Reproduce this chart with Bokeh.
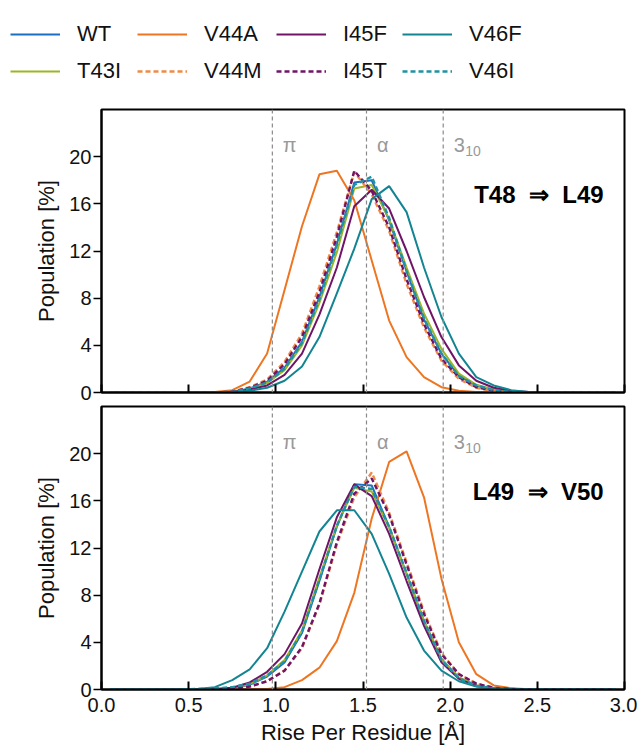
from bokeh.plotting import figure
from bokeh.models import Range1d, Span, Legend, LegendItem, FixedTicker, CustomLabelingPolicy
from bokeh.layouts import column, row
from bokeh.core.properties import value
from bokeh.embed import file_html
from bokeh.resources import INLINE

FONT = "Liberation Sans"

# ---------------- data ----------------
rise = [0.05, 0.15, 0.25, 0.35, 0.45, 0.55, 0.65, 0.75, 0.85, 0.95,
        1.05, 1.15, 1.25, 1.35, 1.45, 1.55, 1.65, 1.75, 1.85, 1.95,
        2.05, 2.15, 2.25, 2.35, 2.45, 2.55, 2.65, 2.75, 2.85, 2.95]

# Panel 1: T48 => L49
wt_t   = [0,0,0,0,0,0,0.01,0.05,0.35,0.9,2.1,4.3,8.1,12.6,17.8,18.0,14.6,10.3,6.2,3.3,1.4,0.6,0.2,0.05,0.02,0,0,0,0,0]
t43i_t = [0,0,0,0,0,0,0.01,0.04,0.3,0.8,1.9,4.0,7.6,11.9,17.3,17.6,14.7,10.6,6.7,3.7,1.6,0.65,0.25,0.08,0.02,0,0,0,0,0]
v44a_t = [0,0,0,0,0,0.02,0.05,0.2,0.93,3.3,8.7,14.1,18.5,18.8,16.3,11.2,6.1,3.0,1.3,0.45,0.15,0.05,0.01,0,0,0,0,0,0,0]
v44m_t = [0,0,0,0,0,0,0.01,0.08,0.45,1.1,2.6,5.0,9.0,13.6,18.7,16.8,13.7,9.2,5.5,2.7,1.15,0.4,0.1,0.03,0,0,0,0,0,0]
i45f_t = [0,0,0,0,0,0,0.01,0.04,0.25,0.6,1.5,3.3,6.6,10.6,15.8,17.2,15.6,12.0,8.1,4.7,2.3,1.0,0.4,0.15,0.05,0,0,0,0,0]
i45t_t = [0,0,0,0,0,0,0.01,0.07,0.4,1.0,2.4,4.7,8.5,13.2,18.8,17.1,14.0,9.6,5.8,2.85,1.3,0.45,0.15,0.05,0.01,0,0,0,0,0]
v46f_t = [0,0,0,0,0,0,0.01,0.05,0.15,0.4,1.0,2.2,4.7,8.4,12.2,16.4,17.5,15.3,10.6,6.4,3.3,1.3,0.6,0.2,0.05,0,0,0,0,0]
v46i_t = [0,0,0,0,0,0,0.01,0.05,0.35,0.85,2.0,4.2,7.9,12.5,17.6,18.3,14.8,10.3,6.3,3.3,1.4,0.6,0.2,0.05,0.01,0,0,0,0,0]

# Panel 2: L49 => V50
wt_b   = [0,0,0,0,0,0,0.03,0.1,0.4,1.1,2.3,4.8,9.2,13.8,17.4,17.3,13.8,9.8,5.8,2.6,1.0,0.35,0.1,0.03,0,0,0,0,0,0]
t43i_b = [0,0,0,0,0,0,0.03,0.1,0.45,1.2,2.5,5.0,9.5,13.9,17.1,16.8,13.7,9.8,5.8,2.6,1.0,0.35,0.1,0.03,0,0,0,0,0,0]
v44a_b = [0,0,0,0,0,0,0,0,0.01,0.05,0.2,0.8,1.85,4.1,8.2,14.5,19.3,20.2,16.3,9.4,4.0,1.3,0.35,0.1,0.03,0,0,0,0,0]
v44m_b = [0,0,0,0,0,0,0.01,0.05,0.25,0.7,1.6,3.5,7.2,12.3,16.3,18.4,15.0,10.8,6.6,3.1,1.3,0.5,0.15,0.05,0,0,0,0,0,0]
i45f_b = [0,0,0,0,0,0,0.04,0.15,0.6,1.5,3.0,5.6,10.2,14.6,17.4,16.4,13.2,9.2,5.4,2.3,0.9,0.3,0.1,0.03,0,0,0,0,0,0]
i45t_b = [0,0,0,0,0,0,0.01,0.05,0.25,0.7,1.6,3.6,7.3,12.5,16.6,17.9,14.8,10.6,6.4,3.0,1.3,0.5,0.15,0.05,0,0,0,0,0,0]
v46f_b = [0,0,0,0,0.02,0.05,0.2,0.8,1.7,3.5,6.6,10.0,13.4,15.2,15.2,13.2,9.8,6.1,3.3,1.6,0.7,0.25,0.08,0.02,0,0,0,0,0,0]
v46i_b = [0,0,0,0,0,0.05,0.1,0.2,0.5,1.2,2.4,4.9,9.3,13.9,17.2,17.0,13.8,9.9,5.8,2.5,0.95,0.3,0.1,0.03,0,0,0,0,0,0]

series = ["WT", "T43I", "V44A", "V44M", "I45F", "I45T", "V46F", "V46I"]
panel_top = {"WT": wt_t, "T43I": t43i_t, "V44A": v44a_t, "V44M": v44m_t,
             "I45F": i45f_t, "I45T": i45t_t, "V46F": v46f_t, "V46I": v46i_t}
panel_bot = {"WT": wt_b, "T43I": t43i_b, "V44A": v44a_b, "V44M": v44m_b,
             "I45F": i45f_b, "I45T": i45t_b, "V46F": v46f_b, "V46I": v46i_b}
panel_labels = ["T48\u00a0\u00a0\u21d2\u00a0\u00a0L49", "L49\u00a0\u00a0\u21d2\u00a0\u00a0V50"]

helix_rise = [0.98, 1.52, 1.96]
helix_names = ["\u03c0", "\u03b1", "3"]
helix_sub = "10"

y_ticks = [0, 4, 8, 12, 16, 20]
x_ticks = [0.0, 0.5, 1.0, 1.5, 2.0, 2.5, 3.0]
x_tick_labels = ["0.0", "0.5", "1.0", "1.5", "2.0", "2.5", "3.0"]

legend_columns = [["WT", "T43I"], ["V44A", "V44M"], ["I45F", "I45T"], ["V46F", "V46I"]]

# ---------------- styles ----------------
colors = {"WT": "#1b6fc2", "T43I": "#9cb526", "V44A": "#ee7623", "V44M": "#f08a45",
          "I45F": "#701468", "I45T": "#701468", "V46F": "#138592", "V46I": "#1f93a3"}
dashes = {"WT": "solid", "T43I": "solid", "V44A": "solid", "V44M": "5 3",
          "I45F": "solid", "I45T": "5 3", "V46F": "solid", "V46I": "5 3"}
widths = {k: (2.4 if dashes[k] != "solid" else 2.0) for k in series}

W = 637
LEFT = 101
RIGHT = 13


def make_panel(data, label, height, top, bottom, show_x):
    p = figure(width=W, height=height, x_range=Range1d(0, 3), y_range=Range1d(0, 24),
               output_backend="svg", toolbar_location=None,
               min_border_left=LEFT, min_border_right=RIGHT,
               min_border_top=top, min_border_bottom=bottom)
    p.grid.visible = False
    p.outline_line_color = "black"
    p.outline_line_width = 2
    p.background_fill_color = "white"
    p.border_fill_alpha = 0

    for h in helix_rise:
        p.add_layout(Span(location=h, dimension="height", line_color="#8a8a8a",
                          line_width=1.2, line_dash="4 3"))
    for name in series:
        p.line(rise, data[name], line_color=colors[name], line_width=widths[name],
               line_dash=dashes[name])

    p.text(x=[h + 0.06 for h in helix_rise], y=[21.0] * 3, text=helix_names,
           text_font=value(FONT), text_font_size=value("20px"), text_color="#999999",
           text_baseline="alphabetic", text_align="left")
    p.text(x=[helix_rise[2] + 0.06 + 0.066], y=[20.45], text=[helix_sub],
           text_font=value(FONT), text_font_size=value("14px"), text_color="#999999",
           text_baseline="alphabetic", text_align="left")
    p.text(x=[2.88], y=[16.8], text=[label], text_font=value(FONT),
           text_font_size=value("24px"), text_font_style="bold", text_color="black",
           text_baseline="middle", text_align="right")

    # axes
    p.yaxis.ticker = FixedTicker(ticks=y_ticks)
    p.yaxis.minor_tick_line_color = None
    p.yaxis.major_tick_in = 0
    p.yaxis.major_tick_out = 8
    p.yaxis.major_tick_line_width = 1.5
    p.yaxis.major_label_standoff = 2
    p.yaxis.major_label_text_font = FONT
    p.yaxis.major_label_text_font_size = "20px"
    p.yaxis.major_label_text_color = "#111111"
    p.yaxis.axis_line_width = 2
    p.yaxis.axis_label = "Population [%]"
    p.yaxis.axis_label_text_font = FONT
    p.yaxis.axis_label_text_font_size = "22px"
    p.yaxis.axis_label_text_font_style = "normal"
    p.yaxis.axis_label_text_color = "#111111"
    p.yaxis.axis_label_standoff = 7

    p.xaxis.ticker = FixedTicker(ticks=x_ticks)
    p.xaxis.minor_tick_line_color = None
    p.xaxis.major_tick_in = 8
    p.xaxis.major_tick_out = 0
    p.xaxis.major_tick_line_width = 2
    p.xaxis.axis_line_width = 2
    if show_x:
        p.xaxis.major_label_overrides = {t: l for t, l in zip(x_ticks, x_tick_labels)}
        p.xaxis.major_label_standoff = 8
        p.xaxis.major_label_text_font = FONT
        p.xaxis.major_label_text_font_size = "20px"
        p.xaxis.major_label_text_color = "#111111"
        p.xaxis.axis_label = "Rise Per Residue [\u00c5]"
        p.xaxis.axis_label_text_font = FONT
        p.xaxis.axis_label_text_font_size = "22px"
        p.xaxis.axis_label_text_font_style = "normal"
        p.xaxis.axis_label_text_color = "#111111"
        p.xaxis.axis_label_standoff = 5
    else:
        p.xaxis.major_label_text_font_size = "0px"
        p.xaxis.major_label_standoff = 0
        p.xaxis.major_label_policy = CustomLabelingPolicy(code="return []")
    return p


# legend strip (lines drawn far outside its view, only their legend samples show)
leg = figure(width=W, height=103, x_range=Range1d(0, 3), y_range=Range1d(100, 101),
             output_backend="svg", toolbar_location=None, min_border=0,
             x_axis_location=None, y_axis_location=None)
leg.grid.visible = False
leg.outline_line_color = None
legend_x = [10, 137, 276, 402]
for names, x0 in zip(legend_columns, legend_x):
    items = []
    for name in names:
        r = leg.line(x=rise, y=panel_top[name], line_color=colors[name],
                     line_width=widths[name], line_dash=dashes[name])
        items.append(LegendItem(label=name, renderers=[r]))
    L = Legend(items=items, location=(x0, 19), orientation="vertical",
               label_text_font=FONT, label_text_font_size="22px",
               label_text_color="#111111", glyph_width=50, glyph_height=24,
               label_height=24, label_standoff=17, spacing=11, padding=0, margin=0,
               border_line_color=None, background_fill_alpha=0)
    leg.add_layout(L)

p1 = make_panel(panel_top, panel_labels[0], 301, 6, 12, False)
p2 = make_panel(panel_bot, panel_labels[1], 346, 2, 61, True)

layout = column(row(leg), column(p1, p2, spacing=0), spacing=0)
open("out.html", "w").write(file_html(layout, INLINE))
